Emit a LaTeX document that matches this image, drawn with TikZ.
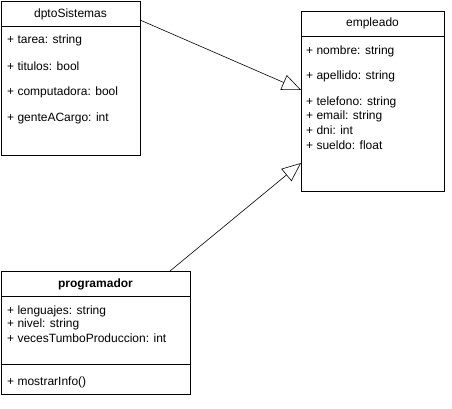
\documentclass[tikz,border=0pt]{standalone}
\usepackage{fontspec}
\setmainfont{Liberation Sans}
\usetikzlibrary{arrows.meta,calc}
\begin{document}
\begin{tikzpicture}[x=1pt,y=-1pt,
    box/.style={draw,line width=0.8pt,anchor=north west,inner sep=0pt,outer sep=0pt},
    attr/.style={anchor=west,inner sep=0pt,font=\fontsize{12}{14}\selectfont},
    head/.style={inner sep=0pt,font=\fontsize{12}{14}\selectfont},
    inherit/.style={line width=0.6pt,-{Triangle[open,length=19pt,width=16pt,line width=0.6pt]}}]
    \useasboundingbox (0,0) rectangle (452,409);
    % dptoSistemas
    \node[box,minimum width=139pt,minimum height=154pt] (dpto) at (1,1) {};
    \draw[line width=0.8pt] ($(dpto.north west)+(0,25)$) -- ($(dpto.north east)+(0,25)$);
    \node[head] (dptoname) at (70.5,14) {dptoSistemas};
    \node[attr] (dpto1) at (7,40) {+ tarea: string};
    \node[attr] (dpto2) at (7,66) {+ titulos: bool};
    \node[attr] (dpto3) at (7,92) {+ computadora: bool};
    \node[attr] (dpto4) at (7,118) {+ genteACargo: int};
    % empleado
    \node[box,minimum width=143pt,minimum height=180pt] (emp) at (301,11) {};
    \draw[line width=0.8pt] ($(emp.north west)+(0,25)$) -- ($(emp.north east)+(0,25)$);
    \node[head] (empname) at (372.5,23.5) {empleado};
    \node[attr] (emp1) at (306,51) {+ nombre: string};
    \node[attr] (emp2) at (306,76) {+ apellido: string};
    \node[attr] (emp3) at (306,102) {+ telefono: string};
    \node[attr] (emp4) at (306,116) {+ email: string};
    \node[attr] (emp5) at (306,130) {+ dni: int};
    \node[attr] (emp6) at (306,145) {+ sueldo: float};
    % programador
    \node[box,minimum width=189pt,minimum height=123pt] (prog) at (1,271) {};
    \draw[line width=0.8pt] ($(prog.north west)+(0,25)$) -- ($(prog.north east)+(0,25)$);
    \draw[line width=0.8pt] ($(prog.north west)+(0,93)$) -- ($(prog.north east)+(0,93)$);
    \node[head,font=\fontsize{12}{14}\selectfont\bfseries] (progname) at (95.5,284) {programador};
    \node[attr] (prog1) at (7,311) {+ lenguajes: string};
    \node[attr] (prog2) at (7,324.5) {+ nivel: string};
    \node[attr] (prog3) at (7,338) {+ vecesTumboProduccion: int};
    \node[attr] (prog4) at (7,382) {+ mostrarInfo()};
    % herencia
    \draw[inherit] ($(dpto.north east)+(0,19)$) -- ($(emp.north west)+(0,79)$);
    \draw[inherit] ($(prog.north west)+(169,0)$) -- ($(emp.north west)+(0,152)$);
\end{tikzpicture}
\end{document}
